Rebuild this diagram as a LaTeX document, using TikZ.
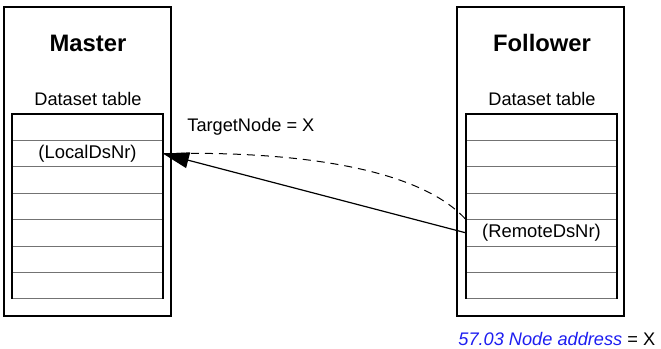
\documentclass[tikz,border=0pt]{standalone}
\usepackage{fontspec}
\setmainfont{Liberation Sans}
\usepackage{tikz}
\usetikzlibrary{arrows.meta, positioning}
\definecolor{parblue}{RGB}{30,30,240}

\begin{document}
\begin{tikzpicture}[
    x=0.5pt, y=-0.5pt,
    unit/.style={rectangle, draw=black, line width=1pt, minimum width=83.5pt, minimum height=154.5pt},
    row/.style={rectangle, draw=black!55, line width=0.5pt, minimum width=75.5pt, minimum height=13.21pt, inner sep=0pt, outer sep=0pt, font=\fontsize{9.2}{11}\selectfont},
    title/.style={font=\fontsize{11.9}{14}\selectfont\bfseries},
    lbl/.style={font=\fontsize{9.1}{11}\selectfont},
    arrow/.style={line width=0.6pt, -{Triangle[length=13pt,width=8pt]}},
    dashline/.style={line width=0.5pt, dash pattern=on 4pt off 3pt}
]
    \useasboundingbox (0,0) rectangle (661,349);
    % the two stations
    \node[unit] (master) at (87.5,161.5) {};
    \node[unit] (follower) at (540.5,161.5) {};
    \node[title] (mtitle) at (88,43) {Master};
    \node[title] (ftitle) at (542,43) {Follower};
    \node[lbl] (mtable) at (88,99) {Dataset table};
    \node[lbl] (ftable) at (542,99) {Dataset table};
    % master dataset table
    \node[row] (m1) at (87.5,127.2) {};
    \node[row, below=0pt of m1] (m2) {(LocalDsNr)};
    \node[row, below=0pt of m2] (m3) {};
    \node[row, below=0pt of m3] (m4) {};
    \node[row, below=0pt of m4] (m5) {};
    \node[row, below=0pt of m5] (m6) {};
    \node[row, below=0pt of m6] (m7) {};
    % follower dataset table
    \node[row] (f1) at (541.5,127.2) {};
    \node[row, below=0pt of f1] (f2) {};
    \node[row, below=0pt of f2] (f3) {};
    \node[row, below=0pt of f3] (f4) {};
    \node[row, below=0pt of f4] (f5) {(RemoteDsNr)};
    \node[row, below=0pt of f5] (f6) {};
    \node[row, below=0pt of f6] (f7) {};
    \draw[line width=1pt] (m7.south west) |- (m1.north east) -- (m7.south east);
    \draw[line width=1pt] (f7.south west) |- (f1.north east) -- (f7.south east);
    % labels
    \node[lbl, anchor=west, inner sep=0pt] (target) at (187,127) {TargetNode = X};
    \node[lbl, anchor=west, inner sep=0pt] (addr) at (458,339) {\textcolor{parblue}{\itshape 57.03 Node address} = X};
    % connectors
    \draw[dashline] (m2.east) .. controls +(140,-3) and +(-45,-50) .. (f5.north west);
    \draw[arrow] (f5.west) -- (m2.east);
\end{tikzpicture}
\end{document}
